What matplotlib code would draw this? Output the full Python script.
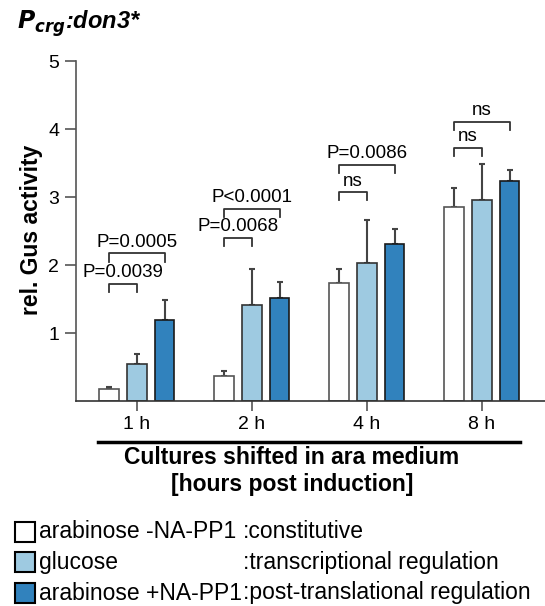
import matplotlib.pyplot as plt
from matplotlib.patches import Rectangle

plt.rcParams['font.family'] = ['Liberation Sans', 'DejaVu Sans']

groups = ["1 h", "2 h", "4 h", "8 h"]
conditions = ["arabinose -NA-PP1", "glucose", "arabinose +NA-PP1"]
descriptions = [":constitutive", ":transcriptional regulation", ":post-translational regulation"]
means = [
    [0.18, 0.37, 1.73, 2.85],
    [0.54, 1.41, 2.03, 2.96],
    [1.19, 1.51, 2.31, 3.24],
]
errs = [
    [0.02, 0.07, 0.21, 0.28],
    [0.15, 0.53, 0.63, 0.52],
    [0.30, 0.24, 0.22, 0.16],
]
# (group, bar a, bar b, bracket height, label)
brackets = [
    (0, 0, 1, 1.72, "P=0.0039"),
    (0, 0, 2, 2.17, "P=0.0005"),
    (1, 0, 1, 2.40, "P=0.0068"),
    (1, 0, 2, 2.83, "P<0.0001"),
    (2, 0, 1, 3.07, "ns"),
    (2, 0, 2, 3.47, "P=0.0086"),
    (3, 0, 1, 3.72, "ns"),
    (3, 0, 2, 4.10, "ns"),
]

face = ["white", "#9ecae1", "#3182bd"]
edge = ["#555555", "#333333", "#1a1a1a"]
width = 0.17
offs = [-0.245, 0.0, 0.24]

W, H = 545, 606
fig = plt.figure(figsize=(5.45, 6.06), dpi=100)
ax = fig.add_axes([76 / W, 1 - 401 / H, 1 - 76 / W, (401 - 61) / H])

for i in range(3):
    xs = [g + offs[i] for g in range(len(groups))]
    ax.bar(xs, means[i], width, color=face[i], edgecolor=edge[i], linewidth=1.2, zorder=2)
    ax.errorbar(xs, means[i], yerr=[[0] * 4, errs[i]], fmt='none', ecolor="#444444",
                elinewidth=1.5, capsize=2.5, capthick=1.5, zorder=1)

for g, a, b, h, lab in brackets:
    x1, x2 = g + offs[a], g + offs[b]
    ax.plot([x1, x1, x2, x2], [h - 0.12, h, h, h - 0.12], color="#333333", lw=1.3)
    ax.text((x1 + x2) / 2, h + 0.04, lab, ha='center', va='bottom', fontsize=13.5)

ax.set_xlim(-(137 - 76) / 115, (545 - 137) / 115)
ax.set_ylim(0, 5)
ax.set_yticks([1, 2, 3, 4, 5])
ax.set_xticks(range(len(groups)))
ax.set_xticklabels(groups, fontsize=14)
ax.tick_params(axis='y', labelsize=14, length=8, width=1.2, color="#555555", pad=4)
ax.tick_params(axis='x', length=7, width=1.2, color="#555555", pad=4)
for s in ['top', 'right']:
    ax.spines[s].set_visible(False)
ax.spines['left'].set_color("#555555")
ax.spines['left'].set_linewidth(1.2)
ax.spines['bottom'].set_color("#333333")
ax.spines['bottom'].set_linewidth(1.2)

fig.text(32 / W, 1 - 230 / H, "rel. Gus activity", fontsize=16.5, fontweight='bold',
         rotation=90, ha='center', va='center')

fig.text(17 / W, 1 - 24 / H, r"$\mathbfit{P}_{\mathbfit{crg}}$:don3*", fontsize=17,
         fontweight='bold', style='italic', va='center')

fig.add_artist(plt.Line2D([98 / W, 520 / W], [1 - 442 / H] * 2, color='black', lw=2.5))
fig.text(292 / W, 1 - 458 / H, "Cultures shifted in ara medium", fontsize=16.5,
         fontweight='bold', ha='center', va='center')
fig.text(292 / W, 1 - 484 / H, "[hours post induction]", fontsize=16.5,
         fontweight='bold', ha='center', va='center')

rows_y = [532, 562, 593]
for i in range(3):
    y = 1 - rows_y[i] / H
    fig.add_artist(Rectangle((15 / W, y - 10 / H), 20 / W, 20 / H, facecolor=face[i],
                             edgecolor='black', lw=1.5, transform=fig.transFigure))
    fig.text(39 / W, y, conditions[i], fontsize=16.5, va='center')
    fig.text(243 / W, y, descriptions[i], fontsize=16.5, va='center')

fig.savefig("out.png", dpi=100)
